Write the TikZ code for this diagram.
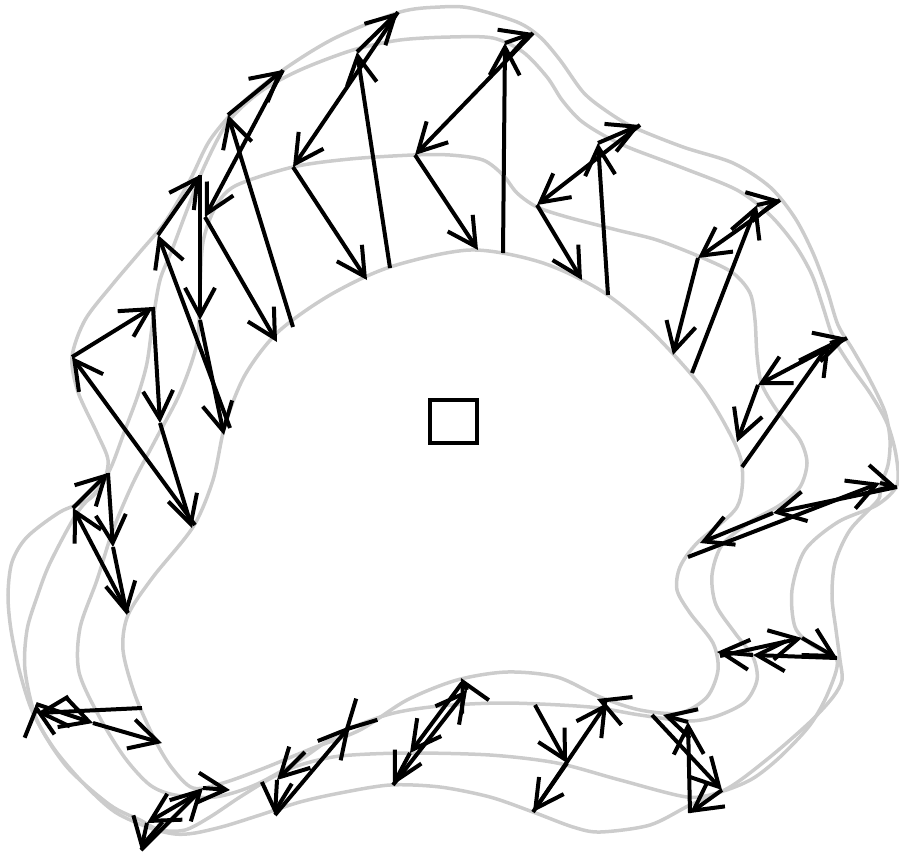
\documentclass[tikz,border=0pt]{standalone}
\usetikzlibrary{arrows.meta}
\definecolor{contourgray}{RGB}{204,204,204}
\begin{document}
\begin{tikzpicture}[
    x=0.2mm, y=-0.2mm,
    >={Straight Barb[length=5.6mm, width=6mm]},
    contour/.style={draw=contourgray, line width=0.7mm},
    hop/.style={->, line width=0.8mm}
  ]
  \useasboundingbox (0,0) rectangle (899,855);

  \draw[contour] plot[smooth cycle] coordinates {(470,250) (540,262) (600,290) (650,330)
    (700,385) (728,430) (742,465) (737,507) (697,543) (680,567) (677,590) (690,613)
    (713,643) (718,670) (707,697) (680,713) (640,710) (600,697) (557,677) (507,672)
    (457,680) (407,700) (360,730) (313,748) (267,767) (223,783) (193,788) (172,768)
    (155,740) (135,695) (123,650) (128,615) (153,577) (193,527) (213,480) (225,425)
    (245,375) (278,332) (330,295) (390,267)};
  \draw[contour] plot[smooth cycle] coordinates {(450,155) (483,160) (503,175) (517,193)
    (537,207) (567,217) (617,230) (657,240) (703,258) (733,273) (750,293) (755,320)
    (757,355) (762,385) (780,415) (800,440) (807,463) (800,487) (780,505) (750,522)
    (722,545) (712,575) (716,605) (735,633) (753,657) (757,680) (745,702) (717,716)
    (688,721) (640,715) (590,707) (507,703) (440,706) (390,714) (340,733) (300,760)
    (255,785) (215,797) (175,795) (150,785) (125,758) (100,718) (79,672) (80,628)
    (97,580) (113,530) (133,483) (157,437) (180,393) (197,343) (200,290) (203,242)
    (215,208) (235,186) (293,167) (350,159) (413,155)};
  \draw[contour] plot[smooth cycle] coordinates {(450,37) (493,38) (523,52) (547,77)
    (562,100) (580,120) (603,135) (630,148) (683,168) (737,190) (770,215) (795,245)
    (812,275) (823,307) (833,337) (850,365) (870,393) (887,423) (896,455) (897,485)
    (877,505) (838,522) (805,550) (792,590) (795,627) (812,645) (837,660) (828,693)
    (810,725) (780,757) (752,779) (720,792) (687,797) (620,780) (557,763) (490,755)
    (407,753) (340,756) (300,765) (273,777) (240,797) (210,817) (185,830) (160,830)
    (140,820) (110,805) (67,767) (37,720) (25,670) (27,630) (37,597) (50,563)
    (77,513) (100,487) (112,465) (125,430) (138,395) (147,363) (153,320) (160,280)
    (172,250) (187,210) (205,165) (228,122) (260,92) (300,70) (353,50) (400,40)};
  \draw[contour] plot[smooth cycle] coordinates {(470,8) (517,22) (540,37) (560,60)
    (583,92) (605,110) (633,127) (683,147) (733,163) (770,187) (795,218) (813,253)
    (827,290) (838,325) (853,350) (870,380) (885,412) (890,440) (888,465) (880,487)
    (878,500) (850,530) (835,563) (832,597) (836,630) (840,660) (842,680) (833,697)
    (810,722) (770,757) (730,787) (690,805) (650,825) (600,832) (573,827) (533,812)
    (490,797) (440,787) (390,785) (340,793) (300,802) (260,815) (225,826) (195,833)
    (175,834) (150,828) (115,812) (85,785) (55,750) (33,713) (20,673) (11,630)
    (8,595) (12,562) (27,537) (60,512) (88,500) (103,483) (108,460) (97,433)
    (78,392) (72,357) (85,320) (112,285) (140,252) (165,222) (190,180) (210,140)
    (240,105) (283,70) (335,38) (400,12) (440,7)};

  \node[draw, line width=0.85mm, minimum width=9.4mm, minimum height=8.6mm,
        inner sep=0pt] (origin) at (453.5,421.5) {};

  \foreach \n/\pa/\pb/\pc/\pd/\pe in {
      1/{503,253}/{505,43}/{533,33}/{415,155}/{478,250},
      2/{390,268}/{357,52}/{398,12}/{293,167}/{367,280},
      3/{293,327}/{228,115}/{283,70}/{205,217}/{277,342},
      4/{230,428}/{158,235}/{200,175}/{200,320}/{224,435},
      5/{195,525}/{72,357}/{153,307}/{160,423}/{192,528},
      6/{128,613}/{73,508}/{108,473}/{113,547}/{127,615},
      7/{142,708}/{37,713}/{36,704}/{93,723}/{162,743},
      8/{200,792}/{147,823}/{141,850}/{203,788}/{230,790},
      9/{305,752}/{277,780}/{275,815}/{350,726}/{344,732},
      10/{462,683}/{410,753}/{393,785}/{467,690}/{461,678},
      11/{535,705}/{567,763}/{533,812}/{607,703}/{597,699},
      12/{652,715}/{722,790}/{690,813}/{688,722}/{663,715},
      13/{720,656}/{802,638}/{837,658}/{753,655}/{717,652},
      14/{688,557}/{880,483}/{897,487}/{773,513}/{700,543},
      15/{742,467}/{830,343}/{847,338}/{758,385}/{737,442},
      16/{692,373}/{757,205}/{780,200}/{698,258}/{673,355},
      17/{608,295}/{598,143}/{640,125}/{537,205}/{582,280}}{
    \coordinate (ray\n-in) at (\pa);
    \coordinate (ray\n-mid) at (\pb);
    \coordinate (ray\n-out) at (\pc);
    \coordinate (ray\n-back) at (\pd);
    \coordinate (ray\n-end) at (\pe);
    \draw[hop] (ray\n-in) -- (ray\n-mid);
    \draw[hop] (ray\n-mid) -- (ray\n-out);
    \draw[hop] (ray\n-out) -- (ray\n-back);
    \draw[hop] (ray\n-back) -- (ray\n-end);
  }
\end{tikzpicture}
\end{document}
